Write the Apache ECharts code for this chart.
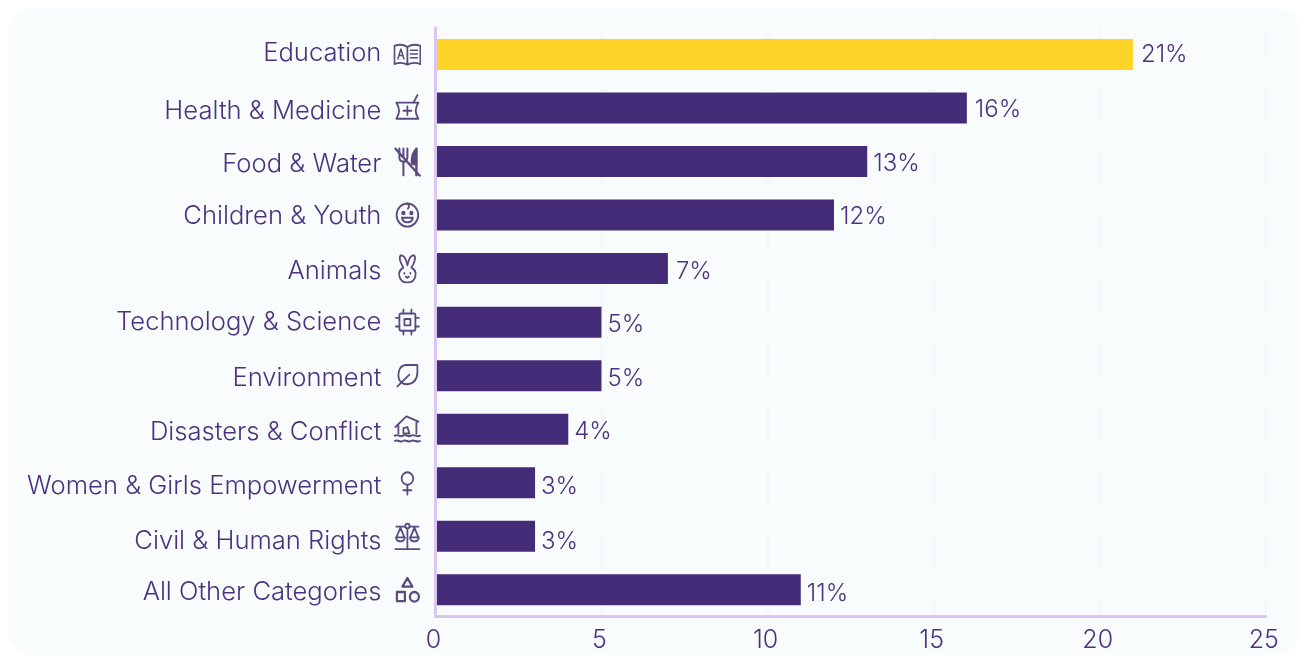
<!DOCTYPE html>
<html>
<head>
<meta charset="utf-8">
<title>Donations by category</title>
<script src="https://cdn.jsdelivr.net/npm/echarts@6/dist/echarts.min.js"></script>
<style>
  html, body { margin: 0; padding: 0; background: #ffffff; overflow: hidden; }
  #card { position: absolute; left: 8px; top: 8px; width: 1291px; height: 647px; background: #f8fcfd; border-radius: 24px; }
  #chart { position: absolute; left: 0; top: 0; width: 1299px; height: 655px; }
</style>
</head>
<body>
<div id="card"></div>
<div id="chart"></div>
<script>
const categories = ['Education', 'Health & Medicine', 'Food & Water', 'Children & Youth', 'Animals',
  'Technology & Science', 'Environment', 'Disasters & Conflict', 'Women & Girls Empowerment',
  'Civil & Human Rights', 'All Other Categories'];
const shares = [21, 16, 13, 12, 7, 5, 5, 4, 3, 3, 11];
const xTicks = [0, 5, 10, 15, 20, 25];

// Hand-set vertical label placement per row, in pixels
const nameShift = [-1, 3, 3, 1, 3, 0, 3, 3, 4, 5, 2];
const valueShift = [0, 2, 2, 2, 3, 3, 3, 3, 4, 5, 4];

const INK = '#452c78';
const LABEL_INK = '#4a3280';
const HIGHLIGHT = '#ffd428';
const ICON_INK = '#5a4a80';
const FONT = 'Inter, "Noto Sans", sans-serif';

// Row glyphs, 28x28 outlines
const iconPaths = [
  '<path d="M14 7C10 4.500 5 4.500 1 6v17c4-1.500 9-1.500 13 .5 4-2 9-2 13-.5V6c-4-1.500-9-1.500-13 1zM14 7v16.500"/><path d="M4.500 18l3-9 3 9M5.500 15h4M17 10h7M17 13.500h7M17 17h7" stroke-width="1.500"/>',
  '<path d="M3 9h22c-3.500 5-3.500 10 0 15H3c3.500-5 3.500-10 0-15zM14 12.500v8M10 16.500h8M20 9l4-7"/>',
  '<path d="M2 2l25 26" stroke-width="2.200"/><path d="M6 2v8c0 3 2 4 4 4v13M10 2v8M14 2v8c0 2-1 3-2.500 4" stroke-width="2"/><path d="M23 2c-3 2-5 7-5 14l5 1z" fill="C"/><path d="M23 2v25" stroke-width="2.400"/>',
  '<circle cx="14" cy="14" r="10.800"/><circle cx="10" cy="12" r="1.200" fill="C"/><circle cx="18" cy="12" r="1.200" fill="C"/><path d="M8.500 16.500h11c-1 5.500-10 5.500-11 0zM14 3.500c2 1 2 3 .5 4.500"/>',
  '<path d="M10 13C7 9 5 3 7.500 1.500 11 1.500 13 6 14 11c1-5 3-9.500 6.500-9.500C23 3 21 9 18 13c3 1.500 5 4 4 8-1 5-5 6-8 6s-7-1-8-6c-1-4 1-6.500 4-8z"/><path d="M11 18v.5M17 18v.5M12.500 21.500l1.500 1 1.500-1"/>',
  '<rect x="6" y="6" width="16" height="16" rx="1.500"/><rect x="11" y="11" width="6" height="6"/><path d="M10 2.500v3.500M18 2.500v3.500M10 22v3.500M18 22v3.500M2.500 10H6M2.500 18H6M22 10h3.500M22 18h3.500"/>',
  '<path d="M24 4H13C7 4 5 9 5 14c0 5 4 8 8 8 7 0 11-5 11-11zM4 24l12-11"/>',
  '<path d="M2 12L13 2l12 5M5 10v8M23 7v11M10 18v-5l4-1 2 6z"/><path d="M1.500 20c3-2 5 2 8 0s5 2 8 0 6 2 9 0M1.500 25c3-2 5 2 8 0s5 2 8 0 6 2 9 0"/>',
  '<circle cx="14" cy="10" r="5.800"/><path d="M14 16v9M10 21h8"/>',
  '<circle cx="14" cy="4.500" r="2.200"/><path d="M14 7v18M2 26h24M3 5h8.500M16.500 5h8.500M7 6L3 15h8zM21 6l-4 9h8zM2.500 15c0 5 9 5 9 0M16.500 15c0 5 9 5 9 0"/>',
  '<path d="M14 3l5 8H9z" stroke-width="2.200"/><path d="M3.500 16h8v8.500h-8z" stroke-width="2.200"/><circle cx="21" cy="20.500" r="4.500" stroke-width="2.200"/>'
];

function iconUrl(paths) {
  const body = paths.replace(/fill="C"/g, 'fill="' + ICON_INK + '"');
  const svg = '<svg xmlns="http://www.w3.org/2000/svg" width="28" height="28" viewBox="0 0 28 28" fill="none" stroke="' +
    ICON_INK + '" stroke-width="1.800" stroke-linejoin="round" stroke-linecap="round">' + body + '</svg>';
  return 'data:image/svg+xml;charset=utf-8,' + encodeURIComponent(svg);
}

const rich = {};
categories.forEach(function (name, i) {
  rich['icon' + i] = { width: 28, height: 28, padding: [2, 0, 0, 0], backgroundColor: { image: iconUrl(iconPaths[i]) } };
  const s = nameShift[i];
  rich['name' + i] = {
    fontFamily: FONT, fontSize: 25.6, fontWeight: 300, color: LABEL_INK,
    padding: [Math.max(s, 0) * 2, 12, Math.max(-s, 0) * 2, 0]
  };
});

const chart = echarts.init(document.getElementById('chart'), null, { renderer: 'canvas' });
chart.setOption({
  animation: false,
  backgroundColor: 'transparent',
  grid: { left: 435.4, right: 33.2, top: 27.7, bottom: 38.4, containLabel: false },
  xAxis: {
    type: 'value', min: 0, max: 25, interval: 5,
    axisLine: { show: true, lineStyle: { color: '#dcc5f5', width: 3 } },
    axisTick: { show: false },
    axisLabel: { fontFamily: FONT, fontSize: 25, fontWeight: 300, color: LABEL_INK, margin: 11, padding: [0, 4, 0, 0],
      formatter: function (v) { return xTicks.includes(v) ? String(v) : ''; } },
    splitLine: { show: true, lineStyle: { color: '#f4f7f9', width: 2, type: [32, 32], dashOffset: 3 } }
  },
  yAxis: {
    type: 'category', data: categories, inverse: true, z: 5,
    axisLine: { show: true, lineStyle: { color: '#dcc5f5', width: 3 } },
    axisTick: { show: false },
    axisLabel: {
      margin: 14, rich: rich, interval: 0,
      formatter: function (value, i) { return '{name' + i + '|' + value + '}{icon' + i + '|}'; }
    }
  },
  series: [{
    type: 'bar',
    barWidth: 31,
    data: shares.map(function (v, i) {
      return {
        value: v,
        itemStyle: { color: i === 0 ? HIGHLIGHT : INK },
        label: { offset: [v > 13 || v === 7 ? 2 : 0, valueShift[i]] }
      };
    }),
    label: {
      show: true, position: 'right', distance: 6, formatter: '{c}%',
      fontFamily: FONT, fontSize: 24, fontWeight: 300, color: LABEL_INK
    }
  }]
});
</script>
</body>
</html>
